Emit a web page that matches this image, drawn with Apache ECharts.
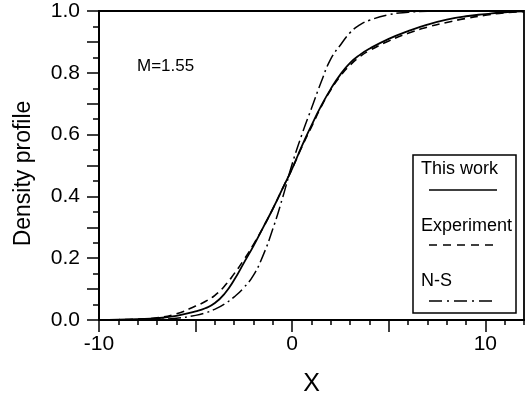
<!DOCTYPE html>
<html>
<head>
<meta charset="utf-8">
<script src="https://cdn.jsdelivr.net/npm/echarts@6/dist/echarts.min.js"></script>
<style>
  html, body { margin: 0; padding: 0; background: #fff; }
  #chart { width: 532px; height: 399px; }
</style>
</head>
<body>
<div id="chart"></div>
<script>
// sample positions along X
const xs = [-10, -9, -8, -7, -6, -5, -4.5, -4, -3.5, -3, -2.5, -2, -1.5, -1, -0.5, 0,
  0.5, 1, 1.5, 2, 2.5, 3, 3.5, 4, 5, 6, 7, 8, 9, 10, 11, 12];

// density profiles
const thisWork = [0, 0.001, 0.003, 0.006, 0.013, 0.028, 0.038, 0.055, 0.085, 0.13, 0.185, 0.24,
  0.30, 0.36, 0.425, 0.49, 0.563, 0.63, 0.693, 0.748, 0.795, 0.832, 0.858, 0.878, 0.91, 0.935,
  0.956, 0.972, 0.983, 0.99, 0.996, 0.999];
const experiment = [0, 0.001, 0.003, 0.007, 0.02, 0.045, 0.06, 0.08, 0.11, 0.15, 0.195, 0.245,
  0.30, 0.36, 0.425, 0.49, 0.56, 0.625, 0.69, 0.745, 0.79, 0.825, 0.852, 0.872, 0.903, 0.928,
  0.948, 0.963, 0.976, 0.986, 0.994, 0.998];
const nsSolution = [0, 0, 0.001, 0.002, 0.006, 0.015, 0.023, 0.035, 0.052, 0.075, 0.105, 0.145,
  0.21, 0.295, 0.395, 0.505, 0.6, 0.685, 0.77, 0.845, 0.89, 0.93, 0.955, 0.97, 0.988, 0.996,
  0.999, 1, 1, 1, 1, 1];

const legendNames = ["This work", "Experiment", "N-S"];
const machLabel = "M=1.55";

const FONT = "'Liberation Sans', Arial, Helvetica, sans-serif";
const pairs = ys => xs.map((x, i) => [x, ys[i]]);

const chart = echarts.init(document.getElementById("chart"));

const axisLine = { show: true, onZero: false, lineStyle: { color: "#000", width: 1.8 } };

const option = {
  animation: false,
  backgroundColor: "#fff",
  grid: {
    left: 99, right: 8, top: 11, bottom: 79,
    show: true, borderColor: "#000", borderWidth: 1.8,
    outerBoundsMode: "none",
  },
  xAxis: [
    {
      type: "value", min: -10, max: 12, interval: 1, position: "bottom",
      axisLine,
      axisTick: { show: true, length: 5, lineStyle: { color: "#000", width: 1.5 } },
      axisLabel: { show: false },
      splitLine: { show: false },
    },
    {
      type: "value", min: -10, max: 12, interval: 5, position: "bottom",
      axisLine,
      axisTick: { show: true, length: 12, customValues: [-10, -5, 0, 5, 10], lineStyle: { color: "#000", width: 1.5 } },
      axisLabel: {
        customValues: [-10, 0, 10], margin: 14,
        color: "#000", fontSize: 21, fontFamily: FONT,
      },
      splitLine: { show: false },
      name: "X", nameLocation: "middle", nameGap: 52,
      nameTextStyle: { color: "#000", fontSize: 25, fontFamily: FONT },
    },
  ],
  yAxis: [
    {
      type: "value", min: 0, max: 1, interval: 0.05, position: "left",
      axisLine,
      axisTick: { show: true, length: 6, lineStyle: { color: "#000", width: 1.5 } },
      axisLabel: { show: false },
      splitLine: { show: false },
    },
    {
      type: "value", min: 0, max: 1, interval: 0.1, position: "left",
      axisLine,
      axisTick: { show: true, length: 12, lineStyle: { color: "#000", width: 1.5 } },
      axisLabel: {
        margin: 19, color: "#000", fontSize: 21, fontFamily: FONT,
        formatter: v => (Math.round(v * 10) % 2 === 0 ? v.toFixed(1) : ""),
      },
      splitLine: { show: false },
      name: "Density profile", nameLocation: "middle", nameGap: 64,
      nameTextStyle: { color: "#000", fontSize: 23, fontFamily: FONT, padding: [0, 16, 0, 0] },
    },
  ],
  series: [
    {
      name: legendNames[2], type: "line", smooth: true, showSymbol: false,
      xAxisIndex: 0, yAxisIndex: 0,
      lineStyle: { color: "#000", width: 1.5, type: [13, 4, 2, 4] },
      data: pairs(nsSolution),
    },
    {
      name: legendNames[1], type: "line", smooth: true, showSymbol: false,
      xAxisIndex: 0, yAxisIndex: 0,
      lineStyle: { color: "#000", width: 1.6, type: [8, 5] },
      data: pairs(experiment),
    },
    {
      name: legendNames[0], type: "line", smooth: true, showSymbol: false,
      xAxisIndex: 0, yAxisIndex: 0,
      lineStyle: { color: "#000", width: 1.8, type: "solid" },
      data: pairs(thisWork),
    },
  ],
  graphic: [
    {
      type: "text", left: 137, top: 58,
      style: { text: machLabel, font: `17px ${FONT}`, fill: "#000" },
    },
    // legend box: label above each line sample
    {
      type: "rect", shape: { x: 413, y: 155, width: 103, height: 158 },
      style: { fill: "#fff", stroke: "#000", lineWidth: 1.5 },
    },
    { type: "text", style: { x: 421, y: 169, text: legendNames[0], font: `18px ${FONT}`, fill: "#000", verticalAlign: "middle" } },
    { type: "line", shape: { x1: 429, y1: 190, x2: 497, y2: 190 }, style: { stroke: "#000", lineWidth: 1.5 } },
    { type: "text", style: { x: 421, y: 226, text: legendNames[1], font: `18px ${FONT}`, fill: "#000", verticalAlign: "middle" } },
    { type: "line", shape: { x1: 429, y1: 245, x2: 497, y2: 245 }, style: { stroke: "#000", lineWidth: 1.5, lineDash: [8, 6] } },
    { type: "text", style: { x: 421, y: 281, text: legendNames[2], font: `18px ${FONT}`, fill: "#000", verticalAlign: "middle" } },
    { type: "line", shape: { x1: 429, y1: 301, x2: 497, y2: 301 }, style: { stroke: "#000", lineWidth: 1.5, lineDash: [13, 5, 2, 5] } },
  ],
};

chart.setOption(option);
</script>
</body>
</html>
